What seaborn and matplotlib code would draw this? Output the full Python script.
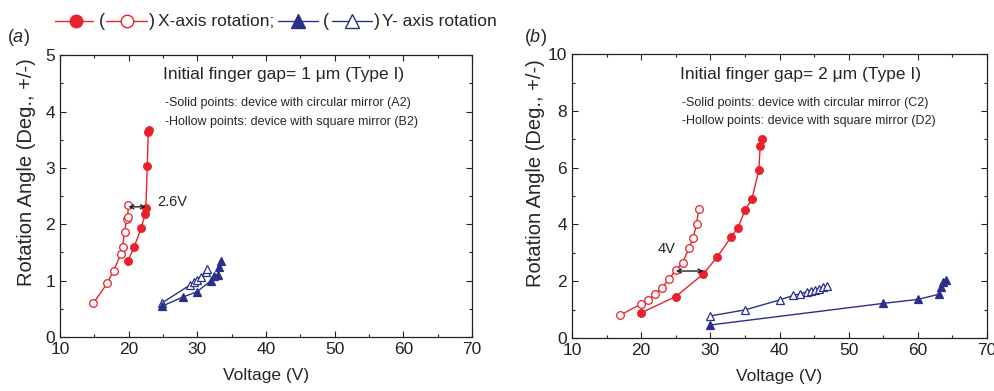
import matplotlib
matplotlib.use("Agg")
import matplotlib.pyplot as plt
from matplotlib.lines import Line2D
from matplotlib.ticker import MultipleLocator
import seaborn as sns
import pandas as pd

# ---- data: panel (a), initial finger gap 1 um ----
a_xsolid_v = [19.9, 20.8, 21.8, 22.4, 22.5, 22.7, 22.85, 22.9]
a_xsolid_ang = [1.35, 1.60, 1.93, 2.18, 2.29, 3.03, 3.63, 3.67]
a_xhollow_v = [14.85, 16.85, 17.8, 18.9, 19.1, 19.4, 19.7, 19.85, 19.95]
a_xhollow_ang = [0.60, 0.95, 1.18, 1.48, 1.60, 1.86, 2.09, 2.13, 2.34]
a_ysolid_v = [24.9, 27.9, 29.9, 32.0, 32.4, 33.0, 33.1, 33.4]
a_ysolid_ang = [0.55, 0.71, 0.80, 1.00, 1.09, 1.10, 1.25, 1.35]
a_yhollow_v = [24.9, 28.9, 29.5, 30.0, 30.6, 31.25, 31.35]
a_yhollow_ang = [0.61, 0.92, 0.97, 1.01, 1.07, 1.16, 1.20]

# ---- data: panel (b), initial finger gap 2 um ----
b_xsolid_v = [20.0, 25.0, 29.0, 31.0, 33.0, 34.0, 35.0, 36.0, 37.0, 37.2, 37.5]
b_xsolid_ang = [0.89, 1.46, 2.26, 2.86, 3.56, 3.89, 4.50, 4.89, 5.92, 6.75, 7.00]
b_xhollow_v = [17.0, 20.0, 21.0, 22.0, 23.0, 24.0, 25.0, 26.0, 26.9, 27.5, 28.0, 28.3]
b_xhollow_ang = [0.81, 1.20, 1.34, 1.54, 1.77, 2.07, 2.40, 2.66, 3.16, 3.53, 4.00, 4.54]
b_ysolid_v = [30.0, 55.0, 60.0, 63.0, 63.4, 63.7, 64.0]
b_ysolid_ang = [0.46, 1.22, 1.36, 1.54, 1.78, 1.98, 2.04]
b_yhollow_v = [30.0, 35.0, 40.0, 42.0, 43.0, 44.0, 44.6, 45.1, 45.7, 46.3, 46.8]
b_yhollow_ang = [0.78, 0.99, 1.34, 1.50, 1.56, 1.63, 1.67, 1.70, 1.74, 1.78, 1.82]

# voltage shift annotations (from, to, angle, label)
a_shift = (19.95, 22.5, 2.31, "2.6V")
b_shift = (25.0, 29.0, 2.36, "4V")

RED = "#e8212b"
NAVY = "#2a2f8c"

sns.set_style("ticks")
plt.rcParams["font.family"] = ["Liberation Sans", "DejaVu Sans"]
plt.rcParams["mathtext.fontset"] = "custom"
plt.rcParams["mathtext.rm"] = "Liberation Sans"
plt.rcParams["mathtext.it"] = "Liberation Sans:italic"

fig = plt.figure(figsize=(9.94, 3.91), dpi=100)
ax_a = fig.add_axes([0.0604, 0.138, 0.4145, 0.721])
ax_b = fig.add_axes([0.5755, 0.1355, 0.4175, 0.726])


def draw_series(ax, xs, ys, color, marker, hollow, ms):
    df = pd.DataFrame({"V": xs, "A": ys})
    sns.lineplot(data=df, x="V", y="A", ax=ax, sort=False, estimator=None,
                 color=color, lw=1.0, marker=marker, markersize=ms,
                 markerfacecolor="white" if hollow else color,
                 markeredgecolor=color, markeredgewidth=0.9)


def style_axes(ax, ymax, ymaj, ymin, ylab_xy):
    ax.set_xlim(10, 70)
    ax.set_ylim(0, ymax)
    ax.xaxis.set_major_locator(MultipleLocator(10))
    ax.xaxis.set_minor_locator(MultipleLocator(5))
    ax.yaxis.set_major_locator(MultipleLocator(ymaj))
    ax.yaxis.set_minor_locator(MultipleLocator(ymin))
    ax.tick_params(which="both", direction="in", top=True, right=True,
                   labelsize=12.5, width=0.8, colors="#222222")
    ax.tick_params(which="major", length=4)
    ax.tick_params(which="minor", length=2.5)
    for s in ax.spines.values():
        s.set_visible(True)
        s.set_linewidth(0.9)
        s.set_color("#222222")
    ax.set_xlabel("Voltage (V)", fontsize=12.5, labelpad=8)
    ax.set_ylabel("Rotation Angle (Deg., +/-)", fontsize=14.5)
    ax.yaxis.set_label_coords(*ylab_xy)


# panel (a)
draw_series(ax_a, a_xhollow_v, a_xhollow_ang, RED, "o", True, 5.5)
draw_series(ax_a, a_xsolid_v, a_xsolid_ang, RED, "o", False, 5.5)
draw_series(ax_a, a_yhollow_v, a_yhollow_ang, NAVY, "^", True, 5.5)
draw_series(ax_a, a_ysolid_v, a_ysolid_ang, NAVY, "^", False, 5.5)
style_axes(ax_a, 5, 1, 0.5, (-0.058, 0.585))
ax_a.annotate("", xy=(a_shift[1], a_shift[2]), xytext=(a_shift[0], a_shift[2]),
              arrowprops=dict(arrowstyle="<->", color="#222222", lw=1.0,
                              mutation_scale=7, shrinkA=0, shrinkB=0))
ax_a.text(24.2, 2.40, a_shift[3], fontsize=10.5, va="center", ha="left")
ax_a.text(25.0, 4.65, "Initial finger gap= 1 \u03bcm (Type I)", fontsize=12.5,
          va="center", ha="left")
ax_a.text(25.3, 4.15, "-Solid points: device with circular mirror (A2)",
          fontsize=9, va="center", ha="left")
ax_a.text(25.3, 3.82, "-Hollow points: device with square mirror (B2)",
          fontsize=9, va="center", ha="left")

# panel (b)
draw_series(ax_b, b_xhollow_v, b_xhollow_ang, RED, "o", True, 5.5)
draw_series(ax_b, b_xsolid_v, b_xsolid_ang, RED, "o", False, 5.5)
draw_series(ax_b, b_yhollow_v, b_yhollow_ang, NAVY, "^", True, 5.5)
draw_series(ax_b, b_ysolid_v, b_ysolid_ang, NAVY, "^", False, 5.5)
style_axes(ax_b, 10, 2, 1, (-0.064, 0.58))
ax_b.annotate("", xy=(b_shift[1], b_shift[2]), xytext=(b_shift[0], b_shift[2]),
              arrowprops=dict(arrowstyle="<->", color="#222222", lw=1.0,
                              mutation_scale=7, shrinkA=0, shrinkB=0))
ax_b.text(23.6, 3.15, b_shift[3], fontsize=10.5, va="center", ha="center")
ax_b.text(25.6, 9.28, "Initial finger gap= 2 \u03bcm (Type I)", fontsize=12.5,
          va="center", ha="left")
ax_b.text(25.9, 8.29, "-Solid points: device with circular mirror (C2)",
          fontsize=9, va="center", ha="left")
ax_b.text(25.9, 7.64, "-Hollow points: device with square mirror (D2)",
          fontsize=9, va="center", ha="left")

# panel letters
fig.text(7 / 994, 1 - 38 / 391, r"($\mathit{a}$)", fontsize=13,
         va="center", ha="left")
fig.text(524 / 994, 1 - 38 / 391, r"($\mathit{b}$)", fontsize=13,
         va="center", ha="left")

# key across the top
ly = 1 - 21 / 391


def fx(px):
    return px / 994


def key_line(x0, x1, xm, color, marker, hollow):
    fig.add_artist(Line2D([fx(x0), fx(x1)], [ly, ly], color=color, lw=1.0,
                          transform=fig.transFigure))
    fig.add_artist(Line2D([fx(xm)], [ly], color=color, marker=marker,
                          markersize=9 if marker == "o" else 10,
                          markerfacecolor="white" if hollow else color,
                          markeredgecolor=color, markeredgewidth=1.0, lw=0,
                          transform=fig.transFigure))


key_line(55, 93, 76, RED, "o", False)
fig.text(fx(99), ly, "(", fontsize=13, va="center", ha="left")
key_line(106, 147, 127, RED, "o", True)
fig.text(fx(149), ly, ")", fontsize=13, va="center", ha="left")
fig.text(fx(158), ly, "X-axis rotation;", fontsize=12.5, va="center", ha="left")
key_line(278, 318, 298, NAVY, "^", False)
fig.text(fx(323), ly, "(", fontsize=13, va="center", ha="left")
key_line(332, 372, 352, NAVY, "^", True)
fig.text(fx(374), ly, ")", fontsize=13, va="center", ha="left")
fig.text(fx(382), ly, "Y- axis rotation", fontsize=12.5, va="center", ha="left")

fig.savefig("out.png", dpi=100)
